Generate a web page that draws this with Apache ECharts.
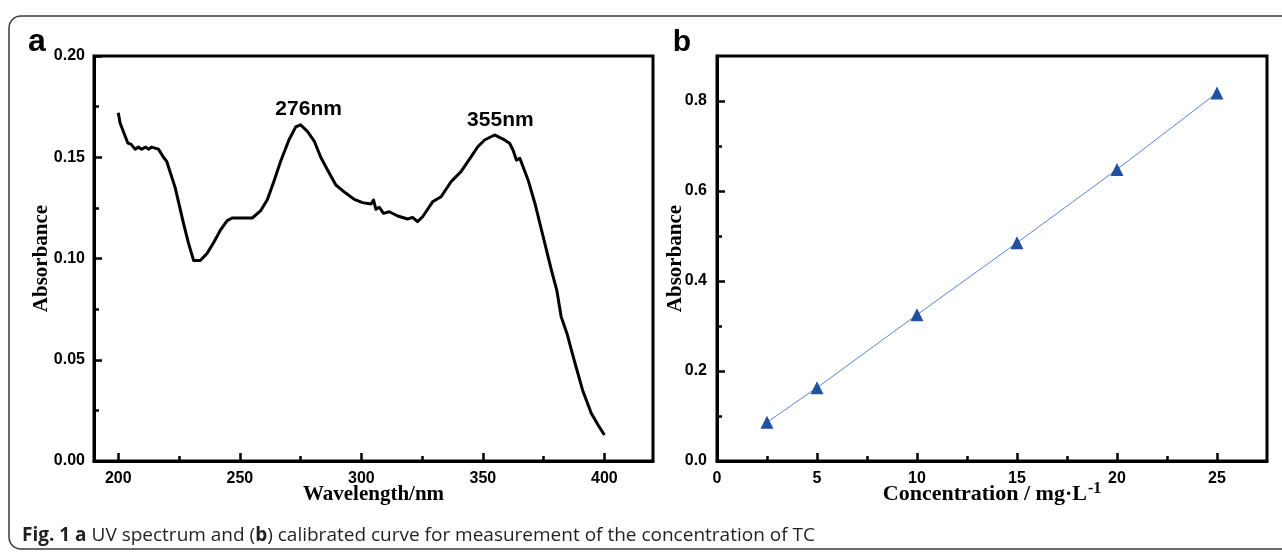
<!DOCTYPE html>
<html>
<head>
<meta charset="utf-8">
<script src="https://cdn.jsdelivr.net/npm/echarts@6/dist/echarts.min.js"></script>
<style>
html,body{margin:0;padding:0;background:#fff;}
#chart{width:1282px;height:552px;}
</style>
</head>
<body>
<div id="chart"></div>
<script>
// Panel a: UV spectrum
const wavelength = [200,200.7,202,203.9,205.2,206.9,208.3,209.6,211.3,212.4,213.7,216.5,218.6,219.9,223.4,226.9,228.9,231,233.7,236.5,239.3,242,244.8,246.8,255.1,258.5,261.3,264,266.8,270.2,273,275,277.8,280.6,283.3,286.1,289.5,293.7,297.1,300.5,304,305,306,307.4,309.1,311.5,315,319,321.1,323.1,325.2,326.6,329.3,332.8,336.9,341,345.2,347.9,350.7,354.8,358.3,361,362.4,363.8,365.2,368.6,371.4,374.8,378.2,380.4,382.2,384.6,386.8,388.5,391,394.6,397.4,400];
const absorbance = [0.172,0.167,0.163,0.157,0.1565,0.154,0.155,0.154,0.155,0.154,0.155,0.154,0.150,0.148,0.135,0.117,0.1075,0.099,0.099,0.1025,0.108,0.114,0.1187,0.120,0.120,0.1235,0.129,0.138,0.148,0.1585,0.165,0.166,0.1628,0.158,0.150,0.1437,0.1363,0.1322,0.1292,0.1276,0.1269,0.1289,0.1243,0.1253,0.1223,0.1231,0.121,0.1195,0.1203,0.1182,0.1206,0.1231,0.128,0.1305,0.1379,0.1429,0.1503,0.1552,0.1585,0.161,0.1590,0.1569,0.1536,0.1486,0.1495,0.1388,0.1273,0.1108,0.0943,0.0844,0.0713,0.063,0.0532,0.0458,0.0351,0.0236,0.0178,0.0128];
const peakLabels = ['276nm','355nm'];
const peakLabelAt = [[278.3,0.1738],[357.2,0.1684]];
const xTicksA = [200,250,300,350,400];
const xMinorA = [225,275,325,375];
const yTicksA = [0,0.05,0.10,0.15,0.20];
const yMinorA = [0.025,0.075,0.125,0.175];

// Panel b: calibration curve
const concentration = [2.5,5,10,15,20,25];
const calAbsorbance = [0.086,0.163,0.325,0.485,0.648,0.818];
const xTicksB = [0,5,10,15,20,25];
const xMinorB = [2.5,7.5,12.5,17.5,22.5];
const yTicksB = [0,0.2,0.4,0.6,0.8];
const yMinorB = [0.1,0.3,0.5,0.7];

const BLACK = '#000';
const labelFont = {fontFamily:'Liberation Sans', fontWeight:'bold', fontSize:16, color:BLACK};
const titleFont = {fontFamily:'Liberation Serif', fontWeight:'bold', fontSize:21, color:BLACK};

function mainAxis(grid, min, max, ticks, fmt, margin, extra){
  return Object.assign({
    gridIndex:grid, type:'value', min:min, max:max,
    nameMoveOverlap:false,
    axisLine:{show:true, onZero:false, lineStyle:{color:BLACK, width:3}},
    axisTick:{show:true, inside:true, length:8, lineStyle:{color:BLACK, width:2.5}, customValues:ticks},
    axisLabel:Object.assign({customValues:ticks, margin:margin, formatter:fmt}, labelFont),
    splitLine:{show:false}
  }, extra);
}
function minorAxis(grid, min, max, ticks, pos){
  return {
    gridIndex:grid, type:'value', min:min, max:max, position:pos,
    axisLine:{show:false},
    axisTick:{show:true, inside:true, length:5, lineStyle:{color:BLACK, width:2.5}, customValues:ticks},
    axisLabel:{show:false}, splitLine:{show:false}
  };
}

const chart = echarts.init(document.getElementById('chart'), null, {renderer:'canvas'});
chart.setOption({
  backgroundColor:'#fff',
  animation:false,
  grid:[
    {left:94, top:56, width:559, height:405, show:true, borderColor:BLACK, borderWidth:3, backgroundColor:'transparent'},
    {left:717, top:56, width:550, height:405, show:true, borderColor:BLACK, borderWidth:3, backgroundColor:'transparent'}
  ],
  xAxis:[
    mainAxis(0,190,420,xTicksA,v=>String(v),10,{position:'bottom', name:'Wavelength/nm', nameLocation:'middle', nameGap:23, nameTextStyle:titleFont}),
    minorAxis(0,190,420,xMinorA,'bottom'),
    mainAxis(1,0,27.5,xTicksB,v=>String(v),10,{position:'bottom', name:'Concentration / mg·L{sup|-1}', nameLocation:'middle', nameGap:20,
      nameTextStyle:Object.assign({}, titleFont, {fontSize:22, rich:{sup:{fontFamily:'Liberation Serif', fontWeight:'bold', fontSize:16, color:BLACK, verticalAlign:'top', padding:[0,0,10,1]}}})}),
    minorAxis(1,0,27.5,xMinorB,'bottom')
  ],
  yAxis:[
    mainAxis(0,0,0.2,yTicksA,v=>v.toFixed(2),9,{position:'left', name:'Absorbance', nameLocation:'middle', nameGap:42, nameRotate:90, nameTextStyle:titleFont}),
    minorAxis(0,0,0.2,yMinorA,'left'),
    mainAxis(1,0,0.9,yTicksB,v=>v.toFixed(1),10,{position:'left', name:'Absorbance', nameLocation:'middle', nameGap:31, nameRotate:90, nameTextStyle:titleFont}),
    minorAxis(1,0,0.9,yMinorB,'left')
  ],
  series:[
    {
      type:'line', xAxisIndex:0, yAxisIndex:0,
      data:wavelength.map((w,i)=>[w, absorbance[i]]),
      showSymbol:false, symbol:'none',
      lineStyle:{color:BLACK, width:3, join:'round'},
      markPoint:{
        symbol:'circle', symbolSize:0, silent:true,
        label:{show:true, position:'inside', fontFamily:'Liberation Sans', fontWeight:'bold', fontSize:21, color:BLACK, formatter:p=>p.name},
        data:peakLabels.map((t,i)=>({name:t, coord:peakLabelAt[i]}))
      }
    },
    {
      type:'line', xAxisIndex:2, yAxisIndex:2,
      data:concentration.map((c,i)=>[c, calAbsorbance[i]]),
      symbol:'triangle', symbolSize:13, showSymbol:true,
      itemStyle:{color:'#2150a0'},
      lineStyle:{color:'#5a86d2', width:1}
    }
  ],
  graphic:[
    {type:'rect', silent:true, z:-1, shape:{x:9, y:16, width:1300, height:533, r:12}, style:{fill:'none', stroke:'#3a3a3a', lineWidth:1.5}},
    {type:'text', x:37, y:42, style:{text:'a', font:'bold 32px "Liberation Sans"', fill:BLACK, textAlign:'center', textVerticalAlign:'middle'}},
    {type:'text', x:682, y:43, style:{text:'b', font:'bold 30px "Liberation Sans"', fill:BLACK, textAlign:'center', textVerticalAlign:'middle'}},
    {type:'text', x:22, y:536, style:{
      text:'{b|Fig. 1} {b|a} UV spectrum and ({b|b}) calibrated curve for measurement of the concentration of TC',
      font:'19px "Open Sans"', fill:'#231f20', textVerticalAlign:'middle',
      rich:{b:{fontWeight:'bold', fontFamily:'Open Sans', fontSize:19, fill:'#231f20'}}
    }}
  ]
});
</script>
</body>
</html>
